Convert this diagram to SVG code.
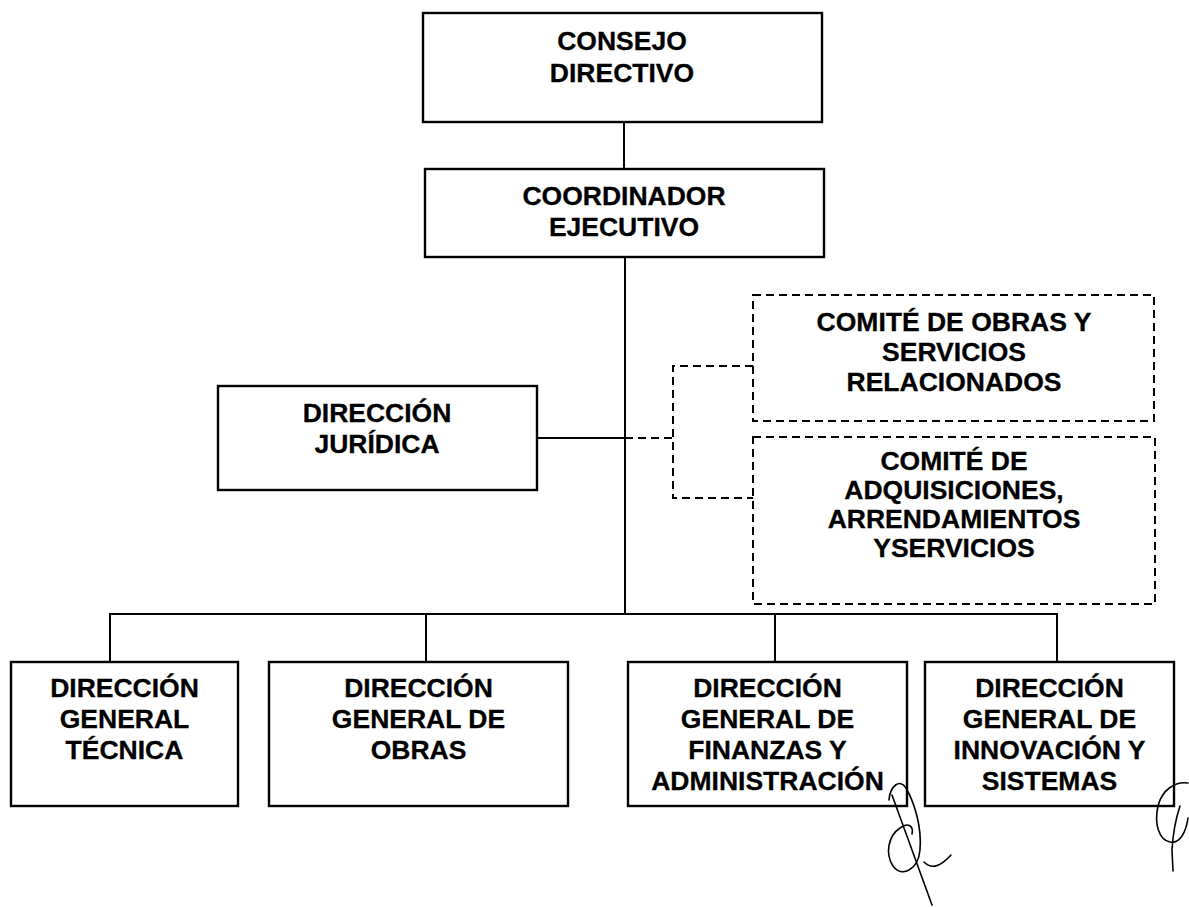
<svg xmlns="http://www.w3.org/2000/svg" width="1189" height="907" viewBox="0 0 1189 907">
<style>
.box{fill:#fff;stroke:#000;stroke-width:2.4}
.dbox{fill:#fff;stroke:#000;stroke-width:2;stroke-dasharray:8 5}
.ln{fill:none;stroke:#000;stroke-width:2}
.dl{fill:none;stroke:#000;stroke-width:2;stroke-dasharray:8 5}
.sig{fill:none;stroke:#000;stroke-width:1.6;stroke-linecap:round;stroke-linejoin:round}
text{font-family:"Liberation Sans",Arial,sans-serif;font-weight:bold;font-size:26.5px;text-anchor:middle;fill:#000;stroke:#000;stroke-width:0.3}
</style>
<rect width="1189" height="907" fill="#fff"/>
<g id="connectors">
<path class="ln" d="M624,122 V169"/>
<path class="ln" d="M625,257 V614"/>
<path class="ln" d="M537,438 H625"/>
<path class="dl" d="M625,438 H673"/>
<path class="dl" d="M753,366 H673 V498 H753"/>
<path class="ln" d="M110,662 V614 H1057 V662"/>
<path class="ln" d="M426,614 V662"/>
<path class="ln" d="M775,614 V662"/>
</g>
<g id="consejo">
<rect class="box" x="423" y="13" width="399" height="109"/>
<text x="622" y="50">CONSEJO</text>
<text x="622" y="82">DIRECTIVO</text>
</g>
<g id="coordinador">
<rect class="box" x="425" y="169" width="399" height="88"/>
<text x="624" y="205">COORDINADOR</text>
<text x="624" y="236">EJECUTIVO</text>
</g>
<g id="juridica">
<rect class="box" x="218" y="386" width="319" height="104"/>
<text x="377" y="422">DIRECCIÓN</text>
<text x="377" y="453">JURÍDICA</text>
</g>
<g id="comite-obras">
<rect class="dbox" x="753" y="295" width="401" height="126"/>
<text x="954" y="331">COMITÉ DE OBRAS Y</text>
<text x="954" y="361">SERVICIOS</text>
<text x="954" y="391">RELACIONADOS</text>
</g>
<g id="comite-adquisiciones">
<rect class="dbox" x="753" y="437" width="402" height="167"/>
<text x="954" y="470">COMITÉ DE</text>
<text x="954" y="499">ADQUISICIONES,</text>
<text x="954" y="528">ARRENDAMIENTOS</text>
<text x="954" y="557">YSERVICIOS</text>
</g>
<g id="dg-tecnica">
<rect class="box" x="11" y="662" width="227" height="144"/>
<text x="124.5" y="697">DIRECCIÓN</text>
<text x="124.5" y="728">GENERAL</text>
<text x="124.5" y="759">TÉCNICA</text>
</g>
<g id="dg-obras">
<rect class="box" x="269" y="662" width="299" height="144"/>
<text x="418.5" y="697">DIRECCIÓN</text>
<text x="418.5" y="728">GENERAL DE</text>
<text x="418.5" y="759">OBRAS</text>
</g>
<g id="dg-finanzas">
<rect class="box" x="628" y="662" width="279" height="144"/>
<text x="767.5" y="697">DIRECCIÓN</text>
<text x="767.5" y="728">GENERAL DE</text>
<text x="767.5" y="759">FINANZAS Y</text>
<text x="767.5" y="790">ADMINISTRACIÓN</text>
</g>
<g id="dg-innovacion">
<rect class="box" x="925" y="662" width="249" height="144"/>
<text x="1049.5" y="697">DIRECCIÓN</text>
<text x="1049.5" y="728">GENERAL DE</text>
<text x="1049.5" y="759">INNOVACIÓN Y</text>
<text x="1049.5" y="790">SISTEMAS</text>
</g>
<g id="signatures">
<path class="sig" d="M889,800 C890,786 900,778 906,788 C914,802 922,826 920,850 C918,870 902,878 893,866 C885,854 888,836 900,828 C908,822 914,826 912,834"/>
<path class="sig" d="M892,795 L932,905"/>
<path class="sig" d="M924,862 C932,870 941,866 951,855"/>
<path class="sig" d="M1188,783 C1175,781 1162,790 1158,806 C1154,824 1159,840 1170,842 C1180,844 1186,832 1188,818"/>
<path class="sig" d="M1180,806 C1176,818 1173,832 1172,850 L1173,871"/>
</g>
</svg>
